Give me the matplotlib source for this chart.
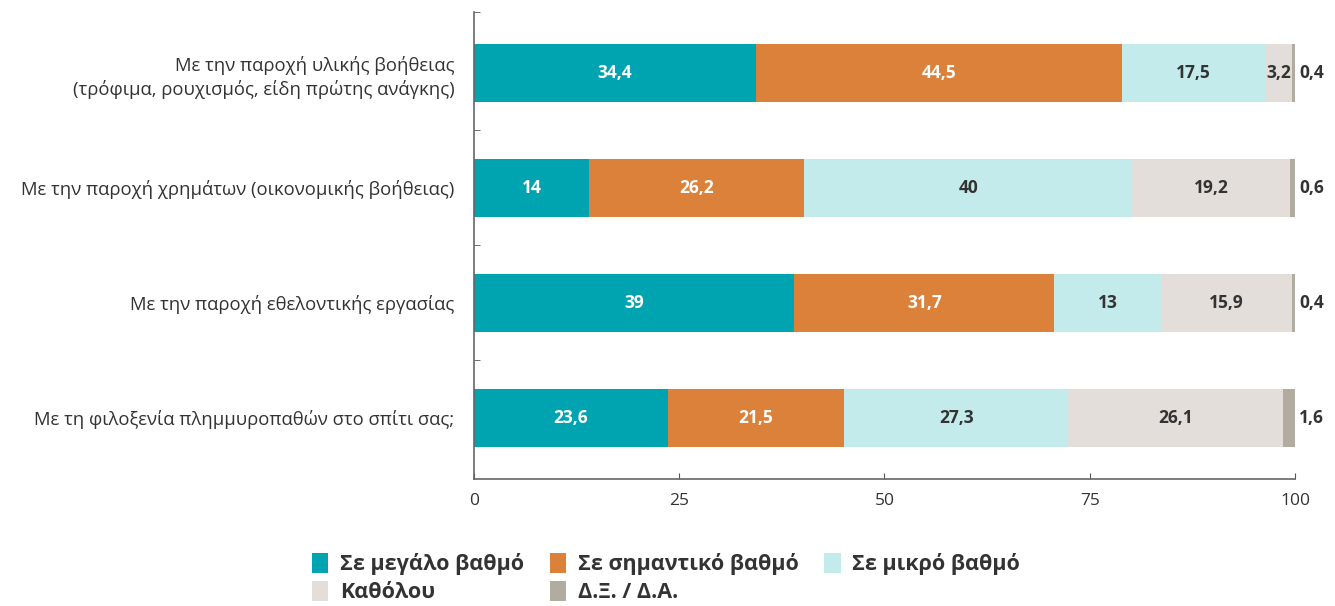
import matplotlib
matplotlib.use("Agg")
import matplotlib.pyplot as plt
import numpy as np
from matplotlib.patches import Patch

plt.rcParams['font.family'] = ['Open Sans', 'DejaVu Sans']

categories = [
    "Με την παροχή υλικής βοήθειας\n(τρόφιμα, ρουχισμός, είδη πρώτης ανάγκης)",
    "Με την παροχή χρημάτων (οικονομικής βοήθειας)",
    "Με την παροχή εθελοντικής εργασίας",
    "Με τη φιλοξενία πλημμυροπαθών στο σπίτι σας;",
]
series_names = ["Σε μεγάλο βαθμό", "Σε σημαντικό βαθμό", "Σε μικρό βαθμό", "Καθόλου", "Δ.Ξ. / Δ.Α."]
values = {
    "Σε μεγάλο βαθμό": [34.4, 14, 39, 23.6],
    "Σε σημαντικό βαθμό": [44.5, 26.2, 31.7, 21.5],
    "Σε μικρό βαθμό": [17.5, 40, 13, 27.3],
    "Καθόλου": [3.2, 19.2, 15.9, 26.1],
    "Δ.Ξ. / Δ.Α.": [0.4, 0.6, 0.4, 1.6],
}
colors = ["#00A4B0", "#DB813A", "#C4EBEB", "#E3DEDA", "#B2ABA0"]
label_colors = ["white", "white", "#333333", "#333333", "#333333"]
xticks = [0, 25, 50, 75, 100]

fig = plt.figure(figsize=(13.35, 6.06), dpi=100)
ax = fig.add_axes([0.355, 0.210, 0.615, 0.770])

y = np.arange(len(categories))
left = np.zeros(len(categories))
for i, name in enumerate(series_names):
    vals = np.array(values[name], dtype=float)
    ax.barh(y, vals, left=left, height=0.51, color=colors[i], edgecolor='none')
    for j, v in enumerate(vals):
        txt = f"{v:g}".replace('.', ',')
        if i == 4:
            ax.text(100.5, y[j], txt, ha='left', va='center', fontsize=12.5,
                    fontweight='bold', color='#333333')
        else:
            ax.text(left[j] + v / 2, y[j], txt, ha='center', va='center', fontsize=12.5,
                    fontweight='bold', color=label_colors[i])
    left += vals

ax.set_xlim(0, 100)
ax.set_ylim(3.53, -0.53)
ax.set_xticks(xticks)
ax.set_xticklabels([str(t) for t in xticks], fontsize=12.5, color='#333333')
ax.set_yticks(y)
ax.set_yticklabels(categories, fontsize=13.3, color='#333333', linespacing=1.35)
ax.tick_params(axis='y', length=0, pad=14)
ax.set_yticks([-0.53, 0.5, 1.5, 2.5], minor=True)
ax.tick_params(axis='y', which='minor', direction='in', length=4, color='#555555')
ax.tick_params(axis='x', direction='in', length=4, color='#555555', pad=10)
for s in ['top', 'right']:
    ax.spines[s].set_visible(False)
for s in ['left', 'bottom']:
    ax.spines[s].set_color('#666666')
    ax.spines[s].set_linewidth(1.2)

order = [0, 3, 1, 4, 2]
handles = [Patch(facecolor=colors[k], edgecolor='none') for k in order]
labels = [series_names[k] for k in order]
fig.legend(handles, labels, ncol=3, loc='upper left', bbox_to_anchor=(0.219, 0.12),
           frameon=False, handlelength=0.75, handleheight=1.1, handletextpad=0.55,
           columnspacing=1.2, labelspacing=0.25,
           prop={'size': 15.5, 'weight': 'bold'}, labelcolor='#333333')

fig.savefig("out.png", dpi=100)
